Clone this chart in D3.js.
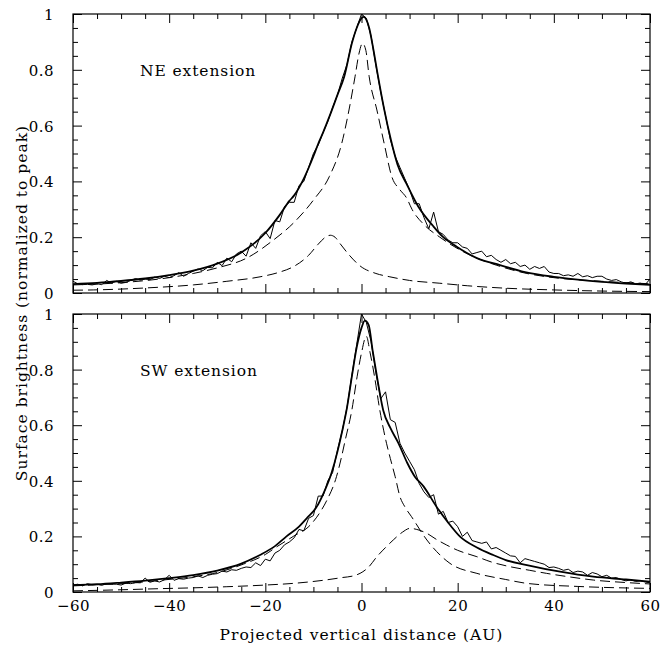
<!DOCTYPE html>
<html>
<head>
<meta charset="utf-8">
<script src="https://cdn.jsdelivr.net/npm/d3@7"></script>
<style>
  html, body { margin: 0; padding: 0; background: #fff; }
  svg text { font-family: "DejaVu Serif", serif; fill: #000; }
</style>
</head>
<body>
<svg id="chart" width="668" height="646"></svg>
<script>
// ---------------- DATA ----------------
const xMajorTicks = [-60, -40, -20, 0, 20, 40, 60];
const xMinorTicks = [-55,-50,-45,-35,-30,-25,-15,-10,-5,5,10,15,25,30,35,45,50,55];
const yMajorTicks = [0, 0.2, 0.4, 0.6, 0.8, 1];
const yMinorTicks = [0.05,0.1,0.15,0.25,0.3,0.35,0.45,0.5,0.55,0.65,0.7,0.75,0.85,0.9,0.95];
const panelLabels = ["NE extension", "SW extension"];

// observed profiles, sampled every 1 AU from -60 to 60
const obsX = [-60,-59,-58,-57,-56,-55,-54,-53,-52,-51,-50,-49,-48,-47,-46,-45,-44,-43,-42,-41,-40,-39,-38,-37,-36,-35,-34,-33,-32,-31,-30,-29,-28,-27,-26,-25,-24,-23,-22,-21,-20,-19,-18,-17,-16,-15,-14,-13,-12,-11,-10,-9,-8,-7,-6,-5,-4,-3,-2,-1,0,1,2,3,4,5,6,7,8,9,10,11,12,13,14,15,16,17,18,19,20,21,22,23,24,25,26,27,28,29,30,31,32,33,34,35,36,37,38,39,40,41,42,43,44,45,46,47,48,49,50,51,52,53,54,55,56,57,58,59,60];

const neObs = [0.042,0.033,0.030,0.031,0.029,0.033,0.030,0.045,0.036,0.042,0.035,0.038,0.045,0.052,0.046,0.050,0.048,0.057,0.052,0.060,0.055,0.062,0.073,0.060,0.070,0.078,0.086,0.080,0.092,0.090,0.110,0.098,0.125,0.112,0.140,0.150,0.132,0.180,0.160,0.205,0.220,0.195,0.260,0.255,0.310,0.325,0.325,0.385,0.400,0.450,0.500,0.530,0.575,0.615,0.665,0.710,0.770,0.820,0.900,0.950,1.000,0.985,0.920,0.815,0.720,0.635,0.550,0.490,0.450,0.410,0.370,0.320,0.320,0.270,0.230,0.290,0.220,0.210,0.190,0.180,0.180,0.165,0.160,0.140,0.145,0.150,0.130,0.135,0.120,0.110,0.120,0.105,0.110,0.095,0.100,0.085,0.095,0.088,0.095,0.075,0.070,0.070,0.062,0.065,0.060,0.070,0.058,0.062,0.055,0.060,0.060,0.050,0.045,0.048,0.040,0.035,0.040,0.033,0.035,0.030,0.050];

const swObs = [0.025,0.028,0.022,0.030,0.026,0.027,0.024,0.030,0.028,0.028,0.025,0.032,0.030,0.034,0.033,0.050,0.035,0.040,0.036,0.044,0.060,0.042,0.048,0.046,0.050,0.052,0.058,0.052,0.060,0.064,0.066,0.075,0.072,0.080,0.078,0.085,0.090,0.088,0.105,0.095,0.118,0.112,0.140,0.150,0.170,0.180,0.195,0.225,0.220,0.265,0.275,0.345,0.345,0.400,0.430,0.510,0.580,0.665,0.780,0.890,1.000,0.970,0.900,0.790,0.695,0.720,0.620,0.610,0.535,0.500,0.470,0.440,0.390,0.360,0.340,0.350,0.280,0.290,0.250,0.255,0.235,0.200,0.215,0.185,0.180,0.175,0.180,0.155,0.160,0.150,0.140,0.130,0.128,0.105,0.120,0.115,0.110,0.105,0.100,0.088,0.090,0.085,0.078,0.082,0.070,0.075,0.072,0.060,0.070,0.065,0.055,0.060,0.050,0.052,0.045,0.040,0.044,0.038,0.040,0.036,0.033];

// NE model fit (total) and its two components
const neTotalX = [-60,-55,-50,-45,-40,-35,-30,-25,-20,-17,-15,-14,-12,-10,-9,-8,-6.5,-5,-3.6,-2,-1,0,0.5,1,1.6,2.5,3.3,4.7,6.1,7.5,9.4,11.8,14.9,17,19.8,24,28.8,34,40,45,50,55,60];
const neTotalY = [0.032,0.036,0.043,0.052,0.064,0.080,0.105,0.145,0.215,0.280,0.330,0.350,0.410,0.490,0.535,0.575,0.640,0.710,0.775,0.895,0.950,0.985,0.990,0.980,0.950,0.870,0.790,0.660,0.550,0.460,0.390,0.310,0.240,0.200,0.166,0.125,0.100,0.075,0.058,0.048,0.040,0.034,0.029];

const neComp1X = [-60,-50,-40,-35,-30,-24,-18.3,-14.2,-10,-6.7,-4.1,-2.6,-1.35,-0.5,0.2,0.9,1.6,3.2,4.7,6.3,8,9.4,10.5,13,16.3,23.3,28,34.4,40,50,60];
const neComp1Y = [0.029,0.037,0.055,0.070,0.090,0.124,0.190,0.250,0.333,0.417,0.537,0.656,0.775,0.860,0.895,0.870,0.775,0.656,0.537,0.417,0.370,0.340,0.300,0.245,0.200,0.130,0.100,0.070,0.055,0.042,0.033];

const neComp2X = [-60,-55.8,-45,-35,-28,-21.1,-17,-14.2,-11,-9,-7.5,-6.5,-5.5,-4.5,-2.5,-0.3,3,5.9,10,16.3,22,30.2,40,50,60];
const neComp2Y = [0.010,0.011,0.018,0.029,0.042,0.058,0.075,0.094,0.135,0.175,0.200,0.207,0.200,0.178,0.135,0.097,0.070,0.058,0.045,0.035,0.026,0.017,0.011,0.007,0.005];

// SW model fit (total) and its two components
const swTotalX = [-60,-55,-50,-45,-40,-35,-30,-25,-21,-18,-15.6,-13,-11.4,-9.3,-7.9,-6.2,-5,-4,-3,-2,-1,0,0.7,1.5,2.3,3.2,4.5,6,7.7,9.5,11.1,12.9,15.6,18,20.5,24,27.4,30,34.4,41.3,48.2,55,60];
const swTotalY = [0.025,0.028,0.034,0.041,0.050,0.061,0.077,0.102,0.134,0.165,0.200,0.235,0.265,0.307,0.355,0.430,0.505,0.580,0.665,0.776,0.880,0.950,0.976,0.960,0.870,0.776,0.655,0.590,0.535,0.465,0.415,0.380,0.307,0.250,0.199,0.160,0.133,0.115,0.097,0.073,0.055,0.045,0.037];

const swComp1X = [-60,-55,-48.8,-42,-35,-30,-24.6,-20,-17.6,-14.2,-10.7,-8.5,-7.2,-5.2,-4.1,-3.4,-2,-0.9,0,1,1.8,2.7,3.8,5.2,6,7,8,9,10.4,13.6,18.4,24,30,34.4,45,60];
const swComp1Y = [0.022,0.026,0.031,0.042,0.055,0.070,0.100,0.135,0.163,0.200,0.240,0.290,0.330,0.415,0.490,0.545,0.655,0.776,0.860,0.920,0.860,0.776,0.655,0.535,0.480,0.415,0.343,0.307,0.271,0.187,0.103,0.067,0.045,0.031,0.020,0.013];

const swComp2X = [-60,-50,-42,-35,-28,-20,-14.2,-8,-4,-1.7,-0.3,1.5,3.2,5,6.6,8.5,10.1,11.5,13.6,15.5,17.7,20,24,27,30.9,35,38.5,43,48.2,55,60];
const swComp2Y = [0.004,0.008,0.012,0.015,0.019,0.025,0.031,0.042,0.052,0.058,0.067,0.090,0.127,0.160,0.187,0.215,0.229,0.225,0.211,0.190,0.169,0.150,0.127,0.108,0.091,0.078,0.067,0.055,0.043,0.034,0.029];

// ---------------- DRAWING ----------------
const svg = d3.select("#chart");
const left = 73, right = 650;
const panels = [
  { top: 14, bottom: 293, obs: neObs, totX: neTotalX, totY: neTotalY,
    c1X: neComp1X, c1Y: neComp1Y, c2X: neComp2X, c2Y: neComp2Y, label: panelLabels[0], xLabels: false },
  { top: 314, bottom: 592, obs: swObs, totX: swTotalX, totY: swTotalY,
    c1X: swComp1X, c1Y: swComp1Y, c2X: swComp2X, c2Y: swComp2Y, label: panelLabels[1], xLabels: true }
];

const x = d3.scaleLinear().domain([-60, 60]).range([left, right]);
const fmtY = d => d === 0 ? "0" : d === 1 ? "1" : d.toFixed(1);
const fmtX = d => d < 0 ? "\u2212" + Math.abs(d) : String(d);

panels.forEach((p, i) => {
  const y = d3.scaleLinear().domain([0, 1]).range([p.bottom, p.top]);
  const g = svg.append("g");
  const clipId = "clip" + i;
  svg.append("clipPath").attr("id", clipId)
    .append("rect").attr("x", left).attr("y", p.top)
    .attr("width", right - left).attr("height", p.bottom - p.top);

  const styleAxis = sel => {
    sel.select(".domain").remove();
    sel.selectAll(".tick line").attr("stroke", "#000").attr("stroke-width", 1);
    sel.selectAll(".tick text").style("font-size", "15px").style("letter-spacing", "0.5px");
  };

  // left axis
  g.append("g").attr("transform", `translate(${left},0)`)
    .call(d3.axisLeft(y).tickValues(yMajorTicks).tickSize(-9).tickPadding(19).tickFormat(fmtY))
    .call(styleAxis)
    .selectAll(".tick text").attr("dy", "0.36em");
  g.append("g").attr("transform", `translate(${left},0)`)
    .call(d3.axisLeft(y).tickValues(yMinorTicks).tickSize(-5).tickFormat(""))
    .call(styleAxis);
  // right axis
  g.append("g").attr("transform", `translate(${right},0)`)
    .call(d3.axisRight(y).tickValues(yMajorTicks).tickSize(-9).tickFormat(""))
    .call(styleAxis);
  g.append("g").attr("transform", `translate(${right},0)`)
    .call(d3.axisRight(y).tickValues(yMinorTicks).tickSize(-5).tickFormat(""))
    .call(styleAxis);
  // top axis
  g.append("g").attr("transform", `translate(0,${p.top})`)
    .call(d3.axisTop(x).tickValues(xMajorTicks).tickSize(-9).tickFormat(""))
    .call(styleAxis);
  g.append("g").attr("transform", `translate(0,${p.top})`)
    .call(d3.axisTop(x).tickValues(xMinorTicks).tickSize(-5).tickFormat(""))
    .call(styleAxis);
  // bottom axis
  const bAx = g.append("g").attr("transform", `translate(0,${p.bottom})`)
    .call(d3.axisBottom(x).tickValues(xMajorTicks).tickSize(-9).tickPadding(8)
      .tickFormat(p.xLabels ? fmtX : ""))
    .call(styleAxis);
  bAx.selectAll(".tick text").attr("dy", "0.71em");
  g.append("g").attr("transform", `translate(0,${p.bottom})`)
    .call(d3.axisBottom(x).tickValues(xMinorTicks).tickSize(-5).tickFormat(""))
    .call(styleAxis);

  // frame
  g.append("rect").attr("x", left).attr("y", p.top)
    .attr("width", right - left).attr("height", p.bottom - p.top)
    .attr("fill", "none").attr("stroke", "#000").attr("stroke-width", 1.2);

  const plot = g.append("g").attr("clip-path", `url(#${clipId})`);

  const smooth = d3.line().x(d => x(d[0])).y(d => y(d[1])).curve(d3.curveMonotoneX);
  const straight = d3.line().x(d => x(d[0])).y(d => y(d[1]));

  // dashed components
  [[p.c1X, p.c1Y], [p.c2X, p.c2Y]].forEach(([xs, ys]) => {
    plot.append("path").datum(d3.zip(xs, ys)).attr("d", smooth)
      .attr("fill", "none").attr("stroke", "#000").attr("stroke-width", 1)
      .attr("stroke-dasharray", "10,5");
  });
  // observed
  plot.append("path").datum(d3.zip(obsX, p.obs)).attr("d", straight)
    .attr("fill", "none").attr("stroke", "#000").attr("stroke-width", 1)
    .attr("stroke-linejoin", "miter");
  // total model
  plot.append("path").datum(d3.zip(p.totX, p.totY)).attr("d", smooth)
    .attr("fill", "none").attr("stroke", "#000").attr("stroke-width", 1.8);

  // panel label
  g.append("text").attr("x", 140).attr("y", y(0.8) + 6)
    .style("font-size", "15.5px").style("letter-spacing", "0.9px")
    .text(p.label);
});

// axis titles
svg.append("text").attr("x", (left + right) / 2).attr("y", 640)
  .attr("text-anchor", "middle").style("font-size", "15.5px").style("letter-spacing", "1px")
  .text("Projected vertical distance (AU)");
svg.append("text")
  .attr("transform", `translate(27,303) rotate(-90)`)
  .attr("text-anchor", "middle").style("font-size", "15.5px").style("letter-spacing", "1px")
  .text("Surface brightness (normalized to peak)");
</script>
</body>
</html>
